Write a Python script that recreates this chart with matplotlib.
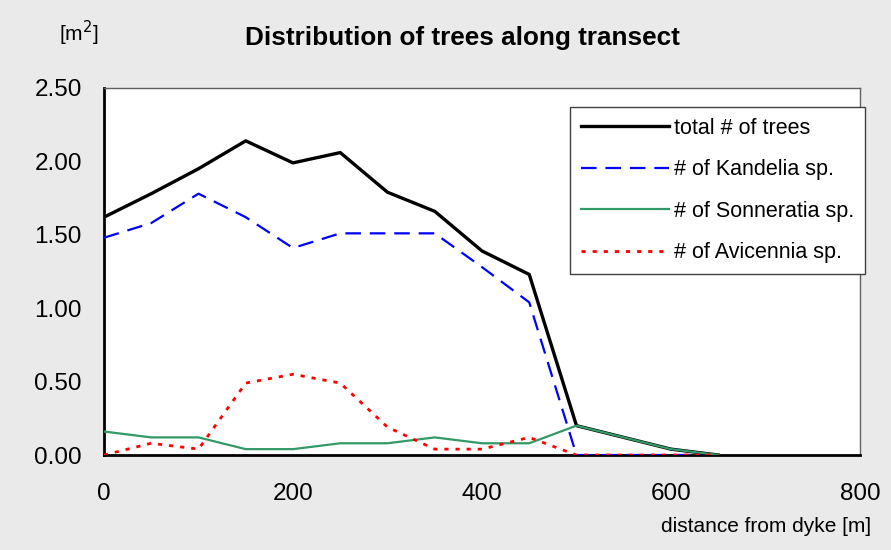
import matplotlib
matplotlib.use("Agg")
import matplotlib.pyplot as plt

plt.rcParams['font.family'] = ['Liberation Sans', 'DejaVu Sans']

distance = [0, 50, 100, 150, 200, 250, 300, 350, 400, 450, 500, 550, 600, 650]
total = [1.62, 1.78, 1.95, 2.14, 1.99, 2.06, 1.79, 1.66, 1.39, 1.23, 0.20, 0.12, 0.04, 0.00]
kandelia = [1.48, 1.58, 1.78, 1.62, 1.41, 1.51, 1.51, 1.51, 1.28, 1.04, 0.00, 0.00, 0.00, 0.00]
sonneratia = [0.16, 0.12, 0.12, 0.04, 0.04, 0.08, 0.08, 0.12, 0.08, 0.08, 0.20, 0.12, 0.04, 0.00]
avicennia = [0.00, 0.08, 0.04, 0.49, 0.55, 0.49, 0.19, 0.04, 0.04, 0.12, 0.00, 0.00, 0.00, 0.00]

xticks = [0, 200, 400, 600, 800]
yticks = [0.0, 0.5, 1.0, 1.5, 2.0, 2.5]

bg = '#EAEAEA'
fig = plt.figure(figsize=(8.91, 5.5), dpi=100, facecolor=bg)
ax = fig.add_axes([0.1167, 0.1727, 0.8485, 0.6673])
ax.set_facecolor('white')

ax.plot(distance, total, color='black', lw=2.4, label='total # of trees', zorder=5)
ax.plot(distance, kandelia, color='#0000FF', lw=1.6, dashes=(7, 4), label='# of Kandelia sp.', zorder=4)
ax.plot(distance, sonneratia, color='#339966', lw=1.6, label='# of Sonneratia sp.', zorder=6)
ax.plot(distance, avicennia, color='#FF0000', lw=2.0, dashes=(1.5, 2.5), label='# of Avicennia sp.', zorder=7)

ax.set_xlim(0, 800)
ax.set_ylim(0, 2.5)
ax.set_xticks(xticks)
ax.set_xticklabels([str(v) for v in xticks])
ax.set_yticks(yticks)
ax.set_yticklabels(['%.2f' % v for v in yticks])
ax.tick_params(axis='both', length=0, labelsize=17.5, colors='black')
ax.tick_params(axis='y', pad=16)
ax.tick_params(axis='x', pad=20)

for s in ['left', 'bottom']:
    ax.spines[s].set_color('black')
    ax.spines[s].set_linewidth(2.0)
for s in ['top', 'right']:
    ax.spines[s].set_color('#606060')
    ax.spines[s].set_linewidth(1.0)

leg = ax.legend(loc='upper right', bbox_to_anchor=(1.006, 0.948), fontsize=15.5,
                frameon=True, fancybox=False, edgecolor='#404040', framealpha=1,
                handlelength=4.1, handletextpad=0.2, labelspacing=0.95,
                borderpad=0.5, borderaxespad=0)
leg.get_frame().set_linewidth(1.0)
leg.set_zorder(10)

fig.text(0.519, 0.93, 'Distribution of trees along transect', ha='center', va='center',
         fontsize=18.8, fontweight='bold')
fig.text(0.088, 0.94, '[m$^2$]', ha='center', va='center', fontsize=15)
fig.text(0.978, 0.042, 'distance from dyke [m]', ha='right', va='center', fontsize=15)

fig.savefig('out.png', dpi=100, facecolor=bg)
